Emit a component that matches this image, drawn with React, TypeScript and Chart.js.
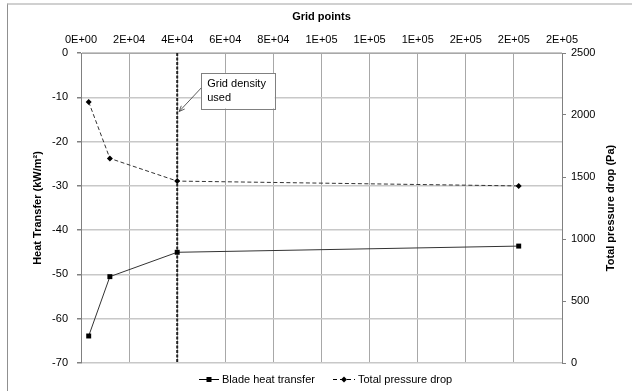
import React, { useEffect, useRef } from "react";
import { Chart, registerables } from "chart.js";

Chart.register(...registerables);

// ---- data ----
const gridPoints = [3200, 12000, 40000, 182000];
const bladeHeatTransfer = [-63.9, -50.5, -45.0, -43.6];
const totalPressureDrop = [2105, 1650, 1467, 1428];

const xMin = 0;
const xMax = 200000;
const xStep = 20000;
const leftMin = -70;
const leftMax = 0;
const leftStep = 10;
const rightMin = 0;
const rightMax = 2500;
const rightStep = 500;

const usedGridDensity = 40000;
const annotationText = ["Grid density", "used"];
const legendLabels = ["Blade heat transfer", "Total pressure drop"];
const xTitle = "Grid points";
const leftTitle = "Heat Transfer (kW/m\u00B2)";
const rightTitle = "Total pressure drop (Pa)";

const FONT = "'Liberation Sans', Arial, sans-serif";

function sci(v: number): string {
  if (v === 0) return "0E+00";
  let e = Math.floor(Math.log10(Math.abs(v)));
  let m = Math.round(v / Math.pow(10, e));
  if (m >= 10) {
    m = 1;
    e += 1;
  }
  return `${m}E+${String(e).padStart(2, "0")}`;
}

const decorPlugin = {
  id: "decor",
  beforeDatasetsDraw(chart: any) {
    const { ctx, chartArea, scales } = chart;
    const x = scales.x.getPixelForValue(usedGridDensity);
    ctx.save();
    ctx.strokeStyle = "#222";
    ctx.lineWidth = 2;
    ctx.setLineDash([3, 1.5]);
    ctx.beginPath();
    ctx.moveTo(x, chartArea.top);
    ctx.lineTo(x, chartArea.bottom);
    ctx.stroke();
    ctx.restore();
  },
  afterDraw(chart: any) {
    const { ctx, chartArea, scales } = chart;
    ctx.save();
    // annotation
    const ax = scales.x.getPixelForValue(usedGridDensity) + 2;
    const ay = scales.y.getPixelForValue(-13.2);
    const bx = ax + 21.5;
    const by = ay - 38.5;
    const bw = 74;
    const bh = 35.5;
    ctx.fillStyle = "#fff";
    ctx.fillRect(bx, by, bw, bh);
    ctx.strokeStyle = "#808080";
    ctx.lineWidth = 1;
    ctx.strokeRect(Math.round(bx) + 0.5, Math.round(by) + 0.5, Math.round(bw), Math.round(bh));
    ctx.fillStyle = "#000";
    ctx.font = `11px ${FONT}`;
    ctx.textBaseline = "middle";
    ctx.textAlign = "left";
    ctx.fillText(annotationText[0], bx + 6.5, by + 11);
    ctx.fillText(annotationText[1], bx + 6.5, by + 25);
    // arrow
    const sx = bx + 0.5;
    const sy = by + 15;
    ctx.strokeStyle = "#333";
    ctx.lineWidth = 0.8;
    ctx.beginPath();
    ctx.moveTo(sx, sy);
    ctx.lineTo(ax, ay);
    ctx.stroke();
    const ang = Math.atan2(ay - sy, ax - sx);
    const hl = 6;
    ctx.beginPath();
    ctx.moveTo(ax - hl * Math.cos(ang - 0.4), ay - hl * Math.sin(ang - 0.4));
    ctx.lineTo(ax, ay);
    ctx.lineTo(ax - hl * Math.cos(ang + 0.4), ay - hl * Math.sin(ang + 0.4));
    ctx.stroke();

    // right axis title (reads bottom to top)
    ctx.fillStyle = "#000";
    ctx.font = `bold 11px ${FONT}`;
    ctx.textAlign = "center";
    ctx.textBaseline = "middle";
    ctx.translate(610.5, (chartArea.top + chartArea.bottom) / 2);
    ctx.rotate(-Math.PI / 2);
    ctx.fillText(rightTitle, 0, 0);
    ctx.restore();

    // legend
    ctx.save();
    const ly = 379.5;
    const l1 = 199;
    ctx.strokeStyle = "#000";
    ctx.fillStyle = "#000";
    ctx.lineWidth = 1;
    ctx.beginPath();
    ctx.moveTo(l1, ly);
    ctx.lineTo(l1 + 20, ly);
    ctx.stroke();
    ctx.fillRect(l1 + 10 - 2.5, ly - 2.5, 5, 5);
    ctx.font = `11px ${FONT}`;
    ctx.textAlign = "left";
    ctx.textBaseline = "middle";
    ctx.fillText(legendLabels[0], l1 + 23, ly);

    const l2 = 333;
    ctx.setLineDash([4, 3]);
    ctx.beginPath();
    ctx.moveTo(l2, ly);
    ctx.lineTo(l2 + 22, ly);
    ctx.stroke();
    ctx.setLineDash([]);
    ctx.beginPath();
    ctx.moveTo(l2 + 11 - 3, ly);
    ctx.lineTo(l2 + 11, ly - 3);
    ctx.lineTo(l2 + 11 + 3, ly);
    ctx.lineTo(l2 + 11, ly + 3);
    ctx.closePath();
    ctx.fill();
    ctx.fillText(legendLabels[1], l2 + 25, ly);
    ctx.restore();
  },
};

export default function App() {
  const ref = useRef<HTMLCanvasElement | null>(null);

  useEffect(() => {
    if (!ref.current) return;
    Chart.defaults.font.family = FONT;
    Chart.defaults.font.size = 11;
    Chart.defaults.color = "#000";
    const chart = new Chart(ref.current, {
      type: "line",
      data: {
        datasets: [
          {
            label: legendLabels[0],
            data: gridPoints.map((g, i) => ({ x: g, y: bladeHeatTransfer[i] })),
            yAxisID: "y",
            borderColor: "#333",
            borderWidth: 1,
            backgroundColor: "#000",
            pointBackgroundColor: "#000",
            pointBorderColor: "#000",
            pointStyle: "rect",
            pointRadius: 3.5,
            pointBorderWidth: 0,
            tension: 0,
          },
          {
            label: legendLabels[1],
            data: gridPoints.map((g, i) => ({ x: g, y: totalPressureDrop[i] })),
            yAxisID: "y2",
            borderColor: "#333",
            borderWidth: 1,
            borderDash: [4, 2.5],
            backgroundColor: "#000",
            pointBackgroundColor: "#000",
            pointBorderColor: "#000",
            pointStyle: "rectRot",
            pointRadius: 3,
            pointBorderWidth: 0,
            tension: 0,
          },
        ],
      },
      options: {
        responsive: false,
        animation: false,
        devicePixelRatio: 1,
        layout: { padding: { left: 0, right: 0, top: 0, bottom: 28 } },
        plugins: {
          legend: { display: false },
          tooltip: { enabled: false },
        },
        scales: {
          x: {
            type: "linear",
            position: "top",
            min: xMin,
            max: xMax,
            ticks: {
              stepSize: xStep,
              padding: 6,
              maxRotation: 0,
              autoSkip: false,
              callback: (v: any) => sci(Number(v)),
            },
            grid: { color: "#a8a8a8", lineWidth: 1, drawTicks: false },
            border: { color: "#a8a8a8" },
            title: {
              display: true,
              text: xTitle,
              font: { size: 11, weight: "bold" },
              padding: { top: 10, bottom: 0 },
            },
            afterFit: (s: any) => {
              s.height = 53;
            },
          },
          y: {
            type: "linear",
            position: "left",
            min: leftMin,
            max: leftMax,
            ticks: { stepSize: leftStep, padding: 9 },
            grid: { color: "#c8c8c8", lineWidth: 1.5, tickLength: 4, tickColor: "#808080" },
            border: { color: "#808080" },
            title: {
              display: true,
              text: leftTitle,
              font: { size: 11, weight: "bold" },
              padding: { top: 31, bottom: 0 },
            },
            afterFit: (s: any) => {
              s.width = 81;
            },
          },
          y2: {
            type: "linear",
            position: "right",
            min: rightMin,
            max: rightMax,
            ticks: { stepSize: rightStep, padding: 5, callback: (v: any) => String(v) },
            grid: { drawOnChartArea: false, tickLength: 4, color: "#808080" },
            border: { color: "#808080" },
            afterFit: (s: any) => {
              s.width = 70;
            },
          },
        },
      } as any,
      plugins: [decorPlugin],
    });
    return () => chart.destroy();
  }, []);

  return (
    <div style={{ position: "fixed", left: 0, top: 0, width: 632, height: 391, background: "#fff" }}>
      <div
        style={{
          position: "absolute",
          left: 7,
          top: 3,
          width: 700,
          height: 500,
          borderLeft: "1px solid #909090",
          borderTop: "2px solid #d0d0d0",
        }}
      />
      <canvas
        ref={ref}
        width={632}
        height={391}
        style={{ position: "absolute", left: 0, top: 0, width: 632, height: 391 }}
      />
    </div>
  );
}
